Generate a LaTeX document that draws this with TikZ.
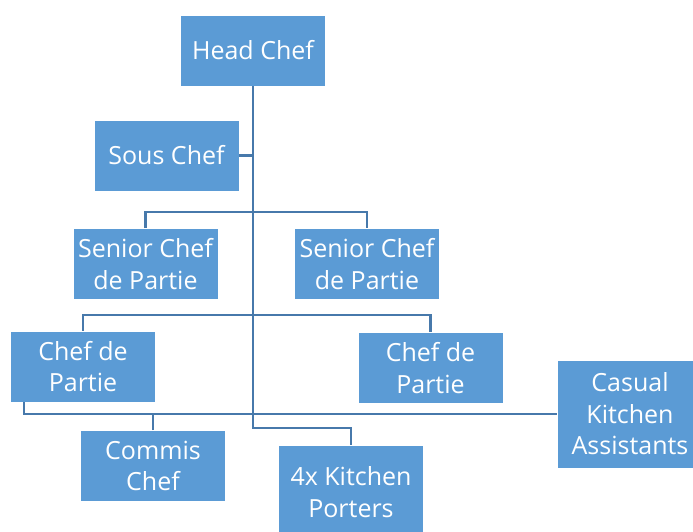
\documentclass[tikz,border=0pt]{standalone}
\usepackage{fontspec}
\setmainfont{Open Sans}
\definecolor{boxblue}{HTML}{5B9BD5}
\definecolor{lineblue}{HTML}{4779AB}
\begin{document}
\begin{tikzpicture}[x=1pt,y=-1pt,
  box/.style={rectangle, fill=boxblue, draw=white, line width=0.8pt, text=white,
    minimum width=145pt, minimum height=71pt, inner sep=0pt, align=center,
    font=\fontsize{25}{31.5}\selectfont},
  conn/.style={draw=lineblue, line width=2.8pt}]
\useasboundingbox (0,0) rectangle (693,532);
\begin{scope}
\clip (0,0) rectangle (693,532);
\node[box] (head) at (253,50.5) {Head Chef};
\node[box] (sous) at (166.5,155.5) {Sous Chef};
\node[box] (sen1) at (145.5,264) {Senior Chef\\de Partie};
\node[box] (sen2) at (367,264) {Senior Chef\\de Partie};
\node[box] (cdp1) at (83,366.5) {Chef de\\Partie};
\node[box] (cdp2) at (430.5,368) {Chef de\\Partie};
\node[box, minimum height=108pt] (casual) at (630,414) {Casual\\Kitchen\\Assistants};
\node[box] (commis) at (153,466) {Commis\\Chef};
\node[box, minimum height=94pt] (porters) at (351,492) {4x Kitchen\\Porters};
\coordinate (trunkbot) at (253,428);
\coordinate (c1) at (24,402);
\coordinate (b1) at (253,212);
\coordinate (b2) at (253,315);
\draw[conn] (head.south) -- (trunkbot) -| (porters.north);
\draw[conn] (sous.east) -- (sous.east -| head.south);
\draw[conn] (sen1.north) |- (b1) -| (sen2.north);
\draw[conn] (cdp1.north) |- (b2) -| (cdp2.north);
\draw[conn] (c1) |- (casual.west);
\draw[conn] (commis.north) -- (commis.north |- casual.west);
\end{scope}
\end{tikzpicture}
\end{document}
